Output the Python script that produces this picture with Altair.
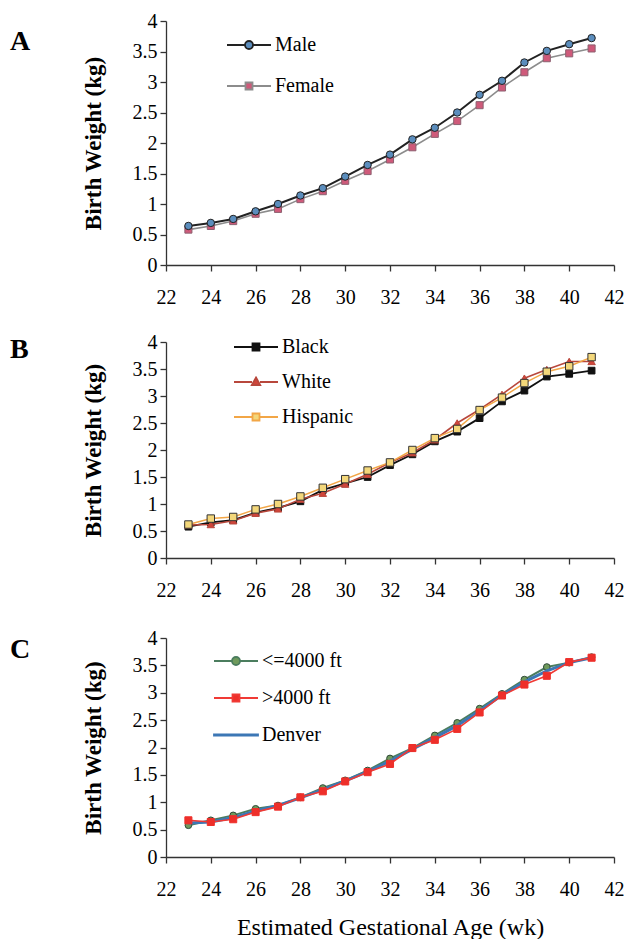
import altair as alt
import pandas as pd

WEEKS = list(range(23, 42))

# Panel A
MALE = [0.64, 0.69, 0.755, 0.88, 1.0, 1.14, 1.26, 1.45, 1.64, 1.81, 2.06, 2.25, 2.5, 2.79, 3.02, 3.32, 3.51, 3.62, 3.72]
FEMALE = [0.58, 0.64, 0.72, 0.84, 0.92, 1.08, 1.21, 1.38, 1.54, 1.73, 1.93, 2.15, 2.36, 2.62, 2.91, 3.16, 3.39, 3.47, 3.55]

# Panel B
BLACK = [0.58, 0.66, 0.70, 0.84, 0.93, 1.05, 1.26, 1.38, 1.50, 1.72, 1.92, 2.16, 2.34, 2.59, 2.90, 3.10, 3.36, 3.41, 3.47]
WHITE = [0.61, 0.62, 0.69, 0.83, 0.91, 1.09, 1.20, 1.37, 1.55, 1.77, 1.95, 2.19, 2.50, 2.75, 3.03, 3.33, 3.49, 3.64, 3.64]
HISPANIC = [0.62, 0.73, 0.76, 0.90, 1.00, 1.14, 1.30, 1.46, 1.62, 1.77, 2.00, 2.22, 2.39, 2.74, 2.97, 3.24, 3.45, 3.55, 3.72]

# Panel C
LOW_ALT = [0.58, 0.67, 0.76, 0.88, 0.94, 1.09, 1.26, 1.40, 1.58, 1.80, 1.99, 2.22, 2.45, 2.71, 2.98, 3.24, 3.47, 3.55, 3.65]
HIGH_ALT = [0.67, 0.64, 0.69, 0.82, 0.92, 1.09, 1.20, 1.38, 1.55, 1.70, 1.99, 2.14, 2.34, 2.64, 2.95, 3.15, 3.31, 3.56, 3.64]
DENVER = [0.62, 0.64, 0.72, 0.84, 0.94, 1.08, 1.23, 1.39, 1.56, 1.75, 1.97, 2.18, 2.40, 2.67, 2.96, 3.20, 3.40, 3.55, 3.64]

X_TICKS = list(range(22, 43, 2))
Y_TICKS = [0, 0.5, 1, 1.5, 2, 2.5, 3, 3.5, 4]
PANEL_LABELS = ["A", "B", "C"]
Y_TITLE = "Birth Weight (kg)"
X_TITLE = "Estimated Gestational Age (wk)"

SERIF = "Liberation Serif"

P_CIRCLE = "M-2.2,0L-0.4,0M0.4,0L2.2,0M-0.4,0A0.4,0.4,0,1,1,0.4,0A0.4,0.4,0,1,1,-0.4,0Z"
P_SQUARE = "M-2.2,0L-0.35,0M0.35,0L2.2,0M-0.35,-0.35L0.35,-0.35L0.35,0.35L-0.35,0.35Z"
P_TRI = "M-2.2,0L-0.4,0M0.4,0L2.2,0M0,-0.45L0.42,0.3L-0.42,0.3Z"
P_BAND = "M-2.2,-0.06L2.2,-0.06L2.2,0.06L-2.2,0.06Z"


def long_frame(field, names, arrays):
    rows = []
    for n, arr in zip(names, arrays):
        for w, v in zip(WEEKS, arr):
            rows.append({"week": w, "bw": v, field: n})
    return pd.DataFrame(rows)


def panel(field, specs, arrays, letter, letter_y, height, lx, ly, row_pad, show_x_title, draw_order):
    names = [s["name"] for s in specs]
    df = long_frame(field, names, arrays)

    x_axis = alt.Axis(values=X_TICKS, labelPadding=16, labelFlush=False, labelFont=SERIF, labelFontSize=20,
                      title=X_TITLE if show_x_title else None, titleFont=SERIF,
                      titleFontSize=24, titleFontWeight="normal", titlePadding=16)
    y_axis = alt.Axis(values=Y_TICKS, format="~g", labelPadding=3, labelFont=SERIF, labelFontSize=20,
                      title=Y_TITLE, titleFont=SERIF,
                      titleFontSize=23, titleFontWeight="bold", titlePadding=27)
    X = alt.X("week:Q", scale=alt.Scale(domain=[22, 42], nice=False, zero=False), axis=x_axis)
    Y = alt.Y("bw:Q", scale=alt.Scale(domain=[0, 4], nice=False), axis=y_axis)

    layers = []
    spec_by_name = {s["name"]: s for s in specs}
    for n in draw_order:
        s = spec_by_name[n]
        sub = df[df[field] == n]
        layers.append(alt.Chart(sub).mark_line(color=s["line"], strokeWidth=s["lw"]).encode(x=X, y=Y))
        if s.get("shape"):
            layers.append(alt.Chart(sub).mark_point(
                shape=s["shape"], filled=True, fill=s["fill"], stroke=s["stroke"],
                strokeWidth=1, size=s["size"], opacity=1).encode(x=X, y=Y))

    legend = alt.Legend(orient="none", legendX=lx, legendY=ly, title=None, padding=0,
                        labelFont=SERIF, labelFontSize=20, labelColor="black",
                        symbolSize=400, labelOffset=15, rowPadding=row_pad,
                        symbolStrokeWidth=1.8, symbolOpacity=1, labelLimit=300)
    leg_layer = alt.Chart(df).mark_point(opacity=0, filled=True).encode(
        x=X, y=Y,
        shape=alt.Shape(f"{field}:N", scale=alt.Scale(domain=names, range=[s["path"] for s in specs]), legend=legend),
        fill=alt.Fill(f"{field}:N", scale=alt.Scale(domain=names, range=[s["lfill"] for s in specs]), legend=legend),
        stroke=alt.Stroke(f"{field}:N", scale=alt.Scale(domain=names, range=[s["line"] for s in specs]), legend=legend),
    )
    layers.append(leg_layer)

    lab = alt.Chart(pd.DataFrame({"lab": [letter]})).mark_text(
        align="left", baseline="middle", font=SERIF, fontWeight="bold", fontSize=28, color="black"
    ).encode(x=alt.value(-156), y=alt.value(letter_y), text="lab:N")
    layers.append(lab)

    return alt.layer(*layers).properties(width=448, height=height)


specs_a = [
    {"name": "Male", "line": "#222222", "lw": 2, "shape": "circle", "fill": "#5b8dbd", "stroke": "#222222", "size": 55, "path": P_CIRCLE, "lfill": "#5b8dbd"},
    {"name": "Female", "line": "#8c8c8c", "lw": 1.6, "shape": "square", "fill": "#cf5a7a", "stroke": "#8c6070", "size": 50, "path": P_SQUARE, "lfill": "#cf5a7a"},
]
specs_b = [
    {"name": "Black", "line": "#111111", "lw": 1.8, "shape": "square", "fill": "#111111", "stroke": "#111111", "size": 45, "path": P_SQUARE, "lfill": "#111111"},
    {"name": "White", "line": "#b8473c", "lw": 1.6, "shape": "triangle-up", "fill": "#d1453a", "stroke": "#b8473c", "size": 55, "path": P_TRI, "lfill": "#d1453a"},
    {"name": "Hispanic", "line": "#f2a646", "lw": 1.5, "shape": "square", "fill": "#f3d77a", "stroke": "#333333", "size": 55, "path": P_SQUARE, "lfill": "#f3d77a"},
]
specs_c = [
    {"name": "<=4000 ft", "line": "#4b7d5e", "lw": 2, "shape": "circle", "fill": "#6f9a5c", "stroke": "#2f4a3a", "size": 45, "path": P_CIRCLE, "lfill": "#6f9a5c"},
    {"name": ">4000 ft", "line": "#f03a35", "lw": 1.6, "shape": "square", "fill": "#ee2f2a", "stroke": "#ee2f2a", "size": 50, "path": P_SQUARE, "lfill": "#ee2f2a"},
    {"name": "Denver", "line": "#3c77b5", "lw": 3, "shape": None, "path": P_BAND, "lfill": "#3c77b5"},
]

pa = panel("sex", specs_a, [MALE, FEMALE], PANEL_LABELS[0], 21, 244, 72, 13, 20, False, ["Female", "Male"])
pb = panel("race", specs_b, [BLACK, WHITE, HISPANIC], PANEL_LABELS[1], 8, 216, 79, -6, 14, False, ["Black", "White", "Hispanic"])
pc = panel("altitude", specs_c, [LOW_ALT, HIGH_ALT, DENVER], PANEL_LABELS[2], 12, 219, 59, 12, 16, True, ["<=4000 ft", "Denver", ">4000 ft"])

inner = alt.vconcat(pb, pc, spacing=28).resolve_scale(
    shape="independent", fill="independent", stroke="independent"
).resolve_legend(shape="independent", fill="independent", stroke="independent")

chart = alt.vconcat(pa, inner, spacing=25).resolve_scale(
    shape="independent", fill="independent", stroke="independent"
).resolve_legend(shape="independent", fill="independent", stroke="independent").properties(
    padding={"left": 2, "top": 3, "right": 0, "bottom": 0},
    background="white",
).configure_view(stroke=None).configure_axis(
    labelFont=SERIF, labelFontSize=20, labelColor="black",
    titleFont=SERIF, titleColor="black",
    domainColor="#333333", tickColor="#333333", domainWidth=1.3, tickWidth=1.3,
    tickSize=6, grid=False,
)

chart.save("out.html", embed_options={"renderer": "svg", "actions": False})
